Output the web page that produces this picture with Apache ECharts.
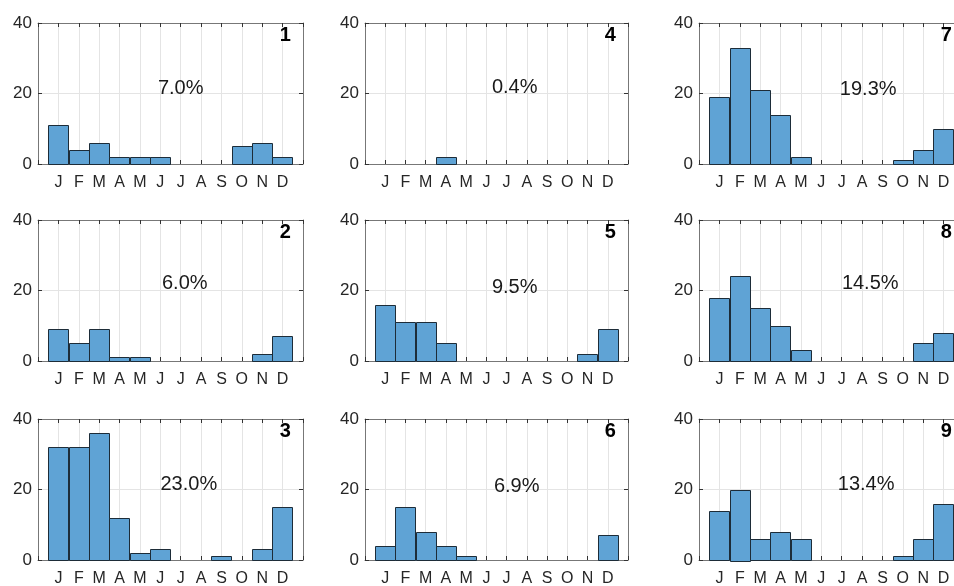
<!DOCTYPE html>
<html>
<head>
<meta charset="utf-8">
<script src="https://cdn.jsdelivr.net/npm/echarts@6/dist/echarts.min.js"></script>
<style>
  html, body { margin: 0; padding: 0; background: #fff; }
  #chart { width: 954px; height: 586px; }
</style>
</head>
<body>
<div id="chart"></div>
<script>
// data
var months = ['J','F','M','A','M','J','J','A','S','O','N','D'];
var panelNames = ['1','2','3','4','5','6','7','8','9'];
var shares = ['7.0%','6.0%','23.0%','0.4%','9.5%','6.9%','19.3%','14.5%','13.4%'];
var yTicks = [0, 20, 40];

var counts1 = [11, 4, 6, 2, 2, 2, 0, 0, 0, 5, 6, 2];
var counts2 = [9, 5, 9, 1, 1, 0, 0, 0, 0, 0, 2, 7];
var counts3 = [32, 32, 36, 12, 2, 3, 0, 0, 1, 0, 3, 15];
var counts4 = [0, 0, 0, 2, 0, 0, 0, 0, 0, 0, 0, 0];
var counts5 = [16, 11, 11, 5, 0, 0, 0, 0, 0, 0, 2, 9];
var counts6 = [4, 15, 8, 4, 1, 0, 0, 0, 0, 0, 0, 7];
var counts7 = [19, 33, 21, 14, 2, 0, 0, 0, 0, 1, 4, 10];
var counts8 = [18, 24, 15, 10, 3, 0, 0, 0, 0, 0, 5, 8];
var counts9 = [14, 20, 6, 8, 6, 0, 0, 0, 0, 1, 6, 16];
var allCounts = [counts1, counts2, counts3, counts4, counts5, counts6, counts7, counts8, counts9];

// layout (pixels) and label anchors (data units)
var colLeft = [38, 365, 699];
var colWidth = [265, 263, 265];
var rowTop = [23, 220, 419];
var rowHeight = 141;
var shareAnchor = [[7.0,21.3],[7.2,21.9],[7.4,21.3],[7.4,21.8],[7.4,20.8],[7.5,20.9],[8.3,21.0],[8.4,21.9],[8.2,21.5]];

var FONT = '"Liberation Sans", Arial, Helvetica, sans-serif';
var TXT = '#262626';
var BOX = '#777777';
var GRIDLINE = '#e4e4e4';
var BAR = '#5fa3d5';
var EDGE = '#1d2c38';

var chart = echarts.init(document.getElementById('chart'), null, {renderer: 'canvas'});

var grids = [], xAxes = [], yAxes = [], series = [];

for (var i = 0; i < 9; i++) {
	var col = Math.floor(i / 3), row = i % 3;
	grids.push({
		left: colLeft[col], top: rowTop[row],
		width: colWidth[col], height: rowHeight,
		show: false, containLabel: false, outerBoundsMode: 'none'
	});

	var tickStyle = {show: true, inside: true, length: 4, lineStyle: {color: '#333', width: 1}};
	var lineStyle = {show: true, onZero: false, lineStyle: {color: BOX, width: 1}};

	xAxes.push({
		type: 'value', gridIndex: i, min: 0, max: 13, interval: 1,
		position: 'bottom',
		axisLine: lineStyle, axisTick: tickStyle,
		axisLabel: {
			color: TXT, fontSize: 16, fontFamily: FONT, margin: 11,
			formatter: function (v) { return months[v - 1] || ''; }
		},
		splitLine: {show: true, lineStyle: {color: GRIDLINE, width: 1}}
	});
	xAxes.push({
		type: 'value', gridIndex: i, min: 0, max: 13, interval: 1,
		position: 'top',
		axisLine: lineStyle, axisTick: tickStyle,
		axisLabel: {show: false}, splitLine: {show: false}
	});
	yAxes.push({
		type: 'value', gridIndex: i, min: yTicks[0], max: yTicks[yTicks.length - 1], interval: 20,
		position: 'left',
		axisLine: lineStyle, axisTick: tickStyle,
		axisLabel: {color: TXT, fontSize: 17, fontFamily: FONT, margin: 6},
		splitLine: {show: true, lineStyle: {color: GRIDLINE, width: 1}}
	});
	yAxes.push({
		type: 'value', gridIndex: i, min: yTicks[0], max: yTicks[yTicks.length - 1], interval: 20,
		position: 'right',
		axisLine: lineStyle, axisTick: tickStyle,
		axisLabel: {show: false}, splitLine: {show: false}
	});

	var barData = allCounts[i].map(function (v, k) { return [k + 1, v]; });
	series.push({
		type: 'custom', xAxisIndex: 2 * i, yAxisIndex: 2 * i,
		data: barData, z: 3,
		renderItem: function (params, api) {
			var x = api.value(0), y = api.value(1);
			if (!y) return null;
			var p0 = api.coord([x - 0.5, y]);
			var p1 = api.coord([x + 0.5, 0]);
			return {
				type: 'rect',
				shape: {x: Math.round(p0[0]) + 0.5, y: Math.round(p0[1]) + 0.5,
					width: Math.round(p1[0] - p0[0]), height: Math.round(p1[1] - p0[1])},
				style: {fill: BAR, stroke: EDGE, lineWidth: 1}
			};
		}
	});

	(function (idx) {
		series.push({
			type: 'custom', xAxisIndex: 2 * idx, yAxisIndex: 2 * idx,
			data: [[shareAnchor[idx][0], shareAnchor[idx][1]], [12.4, 36.4]],
			z: 5, clip: false, silent: true,
			renderItem: function (params, api) {
				var p = api.coord([api.value(0), api.value(1)]);
				var isName = params.dataIndex === 1;
				return {
					type: 'text', x: p[0], y: p[1],
					style: {
						text: isName ? panelNames[idx] : shares[idx],
						fill: isName ? '#000' : '#1a1a1a',
						font: (isName ? 'bold 20px ' : '20px ') + FONT,
						align: isName ? 'right' : 'center',
						verticalAlign: 'middle'
					}
				};
			}
		});
	})(i);
}

chart.setOption({
	animation: false,
	backgroundColor: '#fff',
	grid: grids,
	xAxis: xAxes,
	yAxis: yAxes,
	series: series
});
</script>
</body>
</html>
